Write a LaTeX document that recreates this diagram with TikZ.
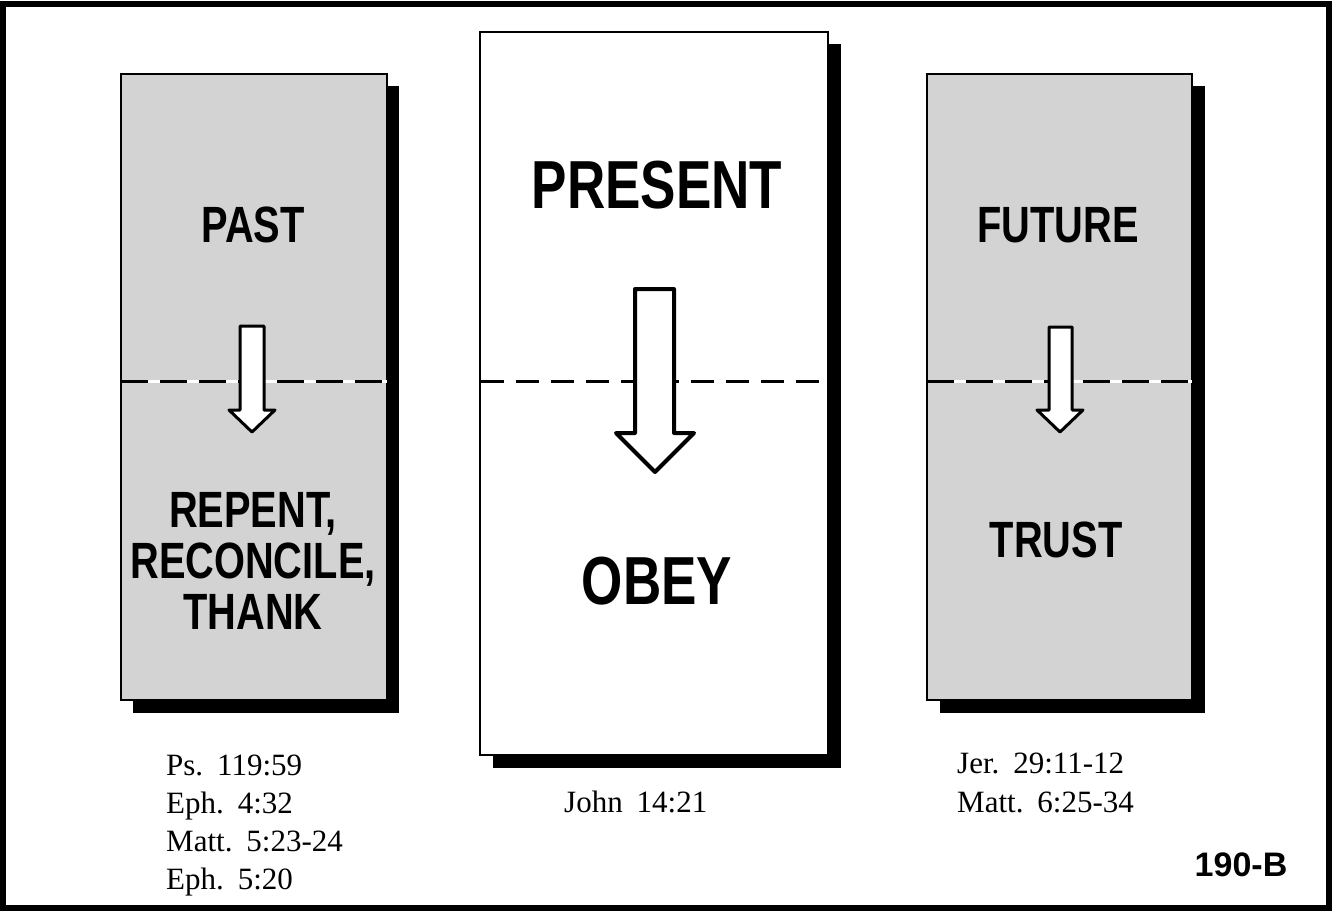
\documentclass[tikz,border=0pt]{standalone}
\usepackage{fontspec}
\setmainfont{Liberation Serif}
\newfontfamily\heavy[FakeStretch=0.78]{Liberation Sans Bold}
\newfontfamily\sansbold{Liberation Sans Bold}
\definecolor{panelgray}{RGB}{211,211,211}
\begin{document}
\begin{tikzpicture}[x=1pt,y=-1pt,
  panel/.style={draw=black,line width=1.2pt,anchor=north west,inner sep=0pt,outer sep=0pt},
  shadowbox/.style={fill=black},
  bigword/.style={font=\heavy\fontsize{51}{51}\selectfont,inner sep=0pt,align=center},
  hugeword/.style={font=\heavy\fontsize{68}{70}\selectfont,inner sep=0pt},
  ref/.style={font=\fontsize{31}{38}\selectfont,anchor=base west,inner sep=0pt},
  divider/.style={line width=3pt,dash pattern=on 27pt off 12pt},
  dividerc/.style={line width=3pt,dash pattern=on 23pt off 12pt},
  downarrow/.style={draw=black,fill=white,line width=3pt,line join=round}
]
\useasboundingbox (0,0) rectangle (1332,911);
\fill[white] (0,0) rectangle (1332,911);
\draw[line width=6pt] (3,4) rectangle (1329,908);

% shadows
\fill[shadowbox] (133,86) rectangle (399,713);
\fill[shadowbox] (493,44) rectangle (841,768);
\fill[shadowbox] (940,86) rectangle (1205,713);

% panels
\node[panel,fill=panelgray,minimum width=266pt,minimum height=626pt] (past) at (121,74) {};
\node[panel,fill=white,minimum width=348pt,minimum height=723pt] (present) at (480,32) {};
\node[panel,fill=panelgray,minimum width=265pt,minimum height=626pt] (future) at (927,74) {};

% dividers
\draw[white,line width=3pt] (121,381) -- (387,381);
\draw[divider] (121,381) -- (387,381);
\draw[white,line width=3pt] (927,381) -- (1192,381);
\draw[divider] (927,381) -- (1192,381);
\draw[dividerc] (481,381) -- (827,381);

% arrows
\draw[downarrow] (240,326) -- (264,326) -- (264,410) -- (275,410) -- (252,432) -- (229,410) -- (240,410) -- cycle;
\draw[downarrow,line width=4pt] (635,289) -- (674,289) -- (674,433) -- (694,433) -- (655,472) -- (616,433) -- (635,433) -- cycle;
\draw[downarrow] (1049,327) -- (1072,327) -- (1072,410) -- (1083,410) -- (1060,432) -- (1037,410) -- (1049,410) -- cycle;

% words
\node[bigword] (tpast) at (253,225) {PAST};
\node[bigword] (trepent) at (253,561) {REPENT,\\RECONCILE,\\THANK};
\node[hugeword] (tpresent) at (657,185) {PRESENT};
\node[hugeword] (tobey) at (657,581) {OBEY};
\node[bigword] (tfuture) at (1058,225) {FUTURE};
\node[bigword] (ttrust) at (1056,540) {TRUST};

% references
\node[ref] (r1) at (166,775) {Ps.\hspace{0.45em}119:59};
\node[ref] (r2) at (166,813) {Eph.\hspace{0.45em}4:32};
\node[ref] (r3) at (166,851) {Matt.\hspace{0.45em}5:23-24};
\node[ref] (r4) at (166,889) {Eph.\hspace{0.45em}5:20};
\node[ref] (r5) at (564,812) {John\hspace{0.45em}14:21};
\node[ref] (r6) at (957,773) {Jer.\hspace{0.45em}29:11-12};
\node[ref] (r7) at (957,812) {Matt.\hspace{0.45em}6:25-34};

\node[font=\sansbold\fontsize{34}{36}\selectfont,inner sep=0pt] (code) at (1241,865) {190-B};
\end{tikzpicture}
\end{document}
